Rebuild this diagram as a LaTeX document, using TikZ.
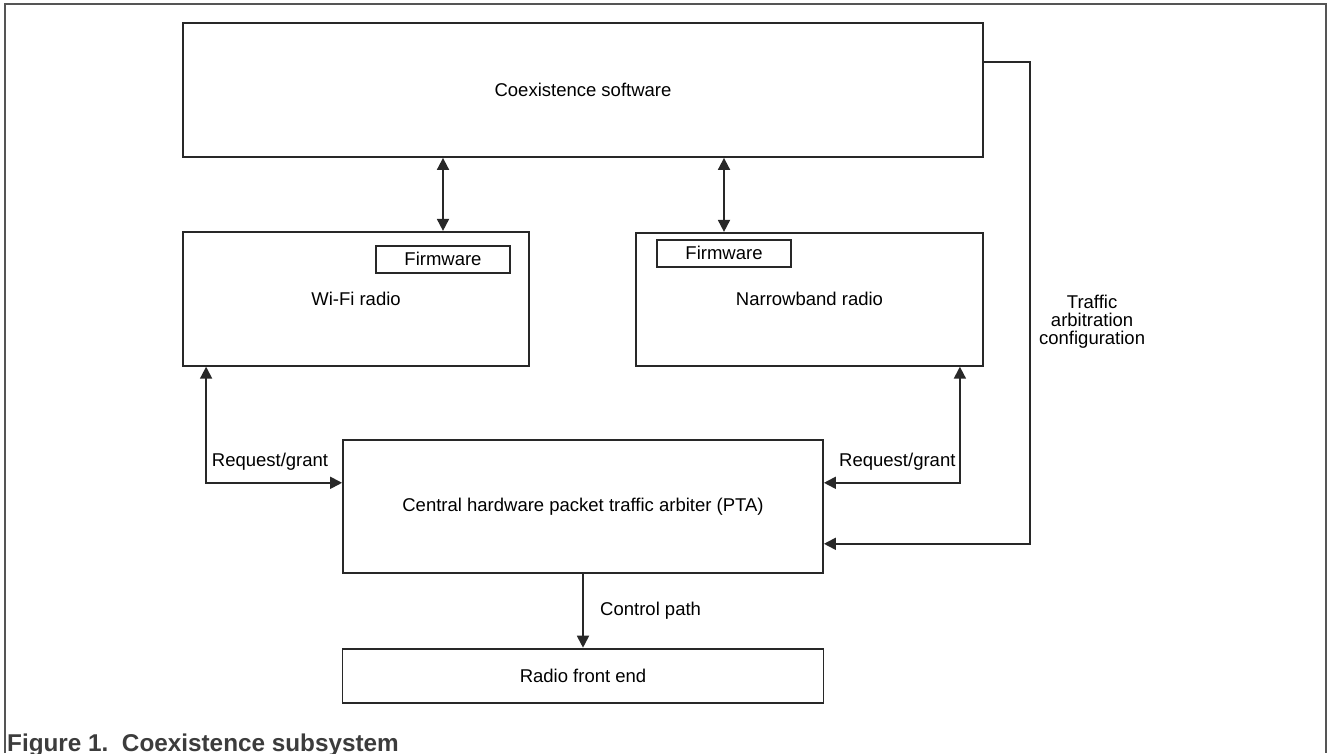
\documentclass[tikz,border=0pt]{standalone}
\usepackage{fontspec}
\setmainfont{Liberation Sans}
\usetikzlibrary{arrows.meta, positioning}
\definecolor{frameGray}{RGB}{85,85,85}
\definecolor{lineInk}{RGB}{40,40,40}
\definecolor{capInk}{RGB}{60,60,60}

\begin{document}
\begin{tikzpicture}[
      x=1pt, y=1pt,
      blk/.style={draw=lineInk, line width=1.8pt, inner sep=0pt, align=center, font=\fontsize{18.5}{18}\selectfont},
      fwbox/.style={blk, minimum width=134pt, minimum height=27pt},
      arrow/.style={-{Triangle[length=12pt, width=12pt]}, line width=1.8pt, draw=lineInk},
      biarrow/.style={{Triangle[length=12pt, width=12pt]}-{Triangle[length=12pt, width=12pt]}, line width=1.8pt, draw=lineInk},
      lbl/.style={font=\fontsize{18.5}{18}\selectfont, align=center}
    ]
    \useasboundingbox (0,0) rectangle (1328,-753);
    % outer frame, open at the bottom
    \draw[frameGray, line width=1.8pt] (5,-753) -- (5,-4) -- (1326,-4) -- (1326,-753);

    \node[blk, minimum width=800pt, minimum height=134pt] (coex) at (583,-90) {Coexistence software};
    \node[blk, minimum width=346pt, minimum height=134pt, below right=73pt and 0pt of coex.south west] (wifi) {Wi-Fi radio};
    \node[blk, minimum width=347pt, minimum height=133pt, below left=74pt and 0pt of coex.south east] (nb) {Narrowband radio};
    \node[fwbox, below left=14pt and 19pt of wifi.north east] (wififw) {Firmware};
    \node[fwbox, below right=7pt and 21pt of nb.north west] (nbfw) {Firmware};
    \node[blk, minimum width=480pt, minimum height=133pt, below=281pt of coex] (pta) {Central hardware packet traffic arbiter (PTA)};
    \node[blk, minimum width=481pt, minimum height=54pt, below=74pt of pta] (rfe) {Radio front end};

    \draw[biarrow] (wififw |- coex.south) -- (wififw |- wifi.north);
    \draw[biarrow] (nbfw |- coex.south) -- (nbfw |- nb.north);
    \draw[biarrow] ([xshift=24pt]wifi.south west) |- node[lbl, pos=0.735, above=8pt] {Request/grant} ([yshift=23.5pt]pta.west);
    \draw[biarrow] ([xshift=-24pt]nb.south east) |- node[lbl, pos=0.73, above=8pt] {Request/grant} ([yshift=23.5pt]pta.east);
    \draw[arrow] ([yshift=28pt]coex.east) -- ++(46,0) |- node[lbl, pos=0.27, right=5pt] {Traffic\\arbitration\\configuration} ([yshift=-37.5pt]pta.east);
    \draw[arrow] (pta) -- node[lbl, right=13pt] {Control path} (rfe);

    \node[anchor=base west, inner sep=0pt, text=capInk, font=\fontsize{24.3}{28}\selectfont\bfseries] (caption) at (7,-751) {Figure 1.\ \ Coexistence subsystem};
  \end{tikzpicture}
\end{document}
